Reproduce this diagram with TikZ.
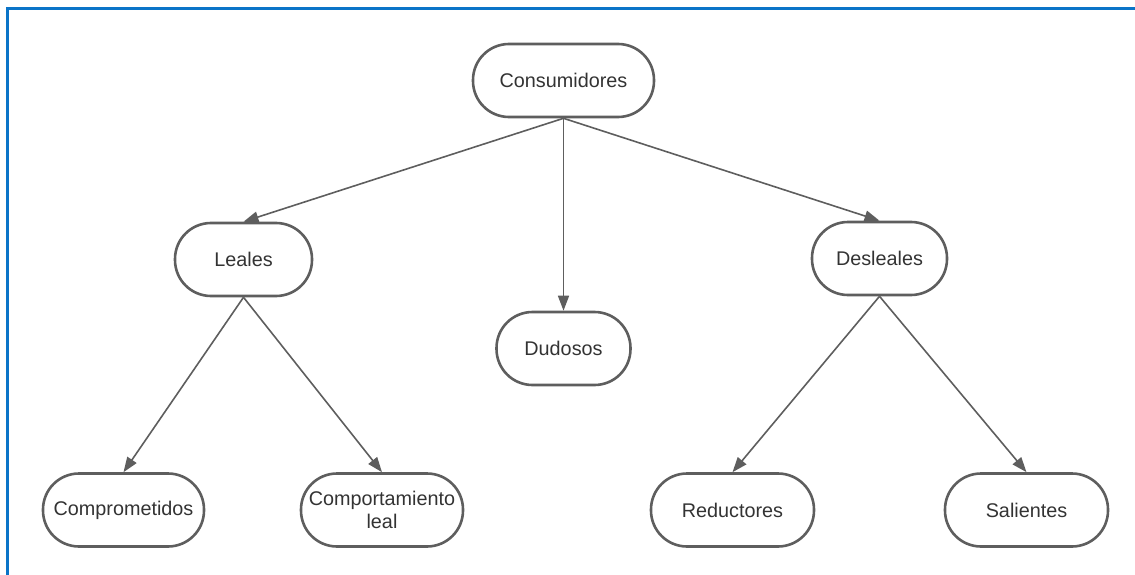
\documentclass[tikz,border=0pt]{standalone}
\usepackage{fontspec}
\setmainfont{Liberation Sans}
\usetikzlibrary{arrows.meta}
\definecolor{framecol}{HTML}{0A74C8}
\definecolor{strokecol}{HTML}{5E5E5E}
\definecolor{textcol}{HTML}{333333}
\tikzset{
  pill/.style={draw=strokecol, line width=2.6pt, rounded corners=36pt,
    minimum height=73pt, inner sep=0pt, text=textcol, align=center,
    font=\fontsize{19.8}{23.5}\selectfont},
  link/.style={draw=strokecol, line width=1.6pt,
    -{Triangle[length=15pt,width=11pt]}}
}
\begin{document}
\begin{tikzpicture}[x=1pt,y=-1pt]
  \useasboundingbox (0,0) rectangle (1135,575);
  % page frame (left and top edges)
  \draw[framecol, line width=3pt, line join=miter] (7,576) -- (7,8.5) -- (1136,8.5);

  % tree nodes
  \node[pill, minimum width=181pt] (cons) at (563.5,80.5) {Consumidores};
  \node[pill, minimum width=137pt] (leal) at (243.5,259.5) {Leales};
  \node[pill, minimum width=134pt] (dud)  at (563.5,348.5) {Dudosos};
  \node[pill, minimum width=135pt] (desl) at (879.5,258.5) {Desleales};
  \node[pill, minimum width=161pt] (comp) at (123.5,510) {Comprometidos};
  \node[pill, minimum width=162pt] (cleal) at (382,510) {Comportamiento\\leal};
  \node[pill, minimum width=163pt] (red) at (732.5,510) {Reductores};
  \node[pill, minimum width=163pt] (sal) at (1026.5,510) {Salientes};

  % connectors
  \draw[link] (cons.south) -- (leal.north);
  \draw[link] (cons.south) -- (dud.north);
  \draw[link] (cons.south) -- (desl.north);
  \draw[link] (leal.south) -- (comp.north);
  \draw[link] (leal.south) -- (cleal.north);
  \draw[link] (desl.south) -- (red.north);
  \draw[link] (desl.south) -- (sal.north);
\end{tikzpicture}
\end{document}
